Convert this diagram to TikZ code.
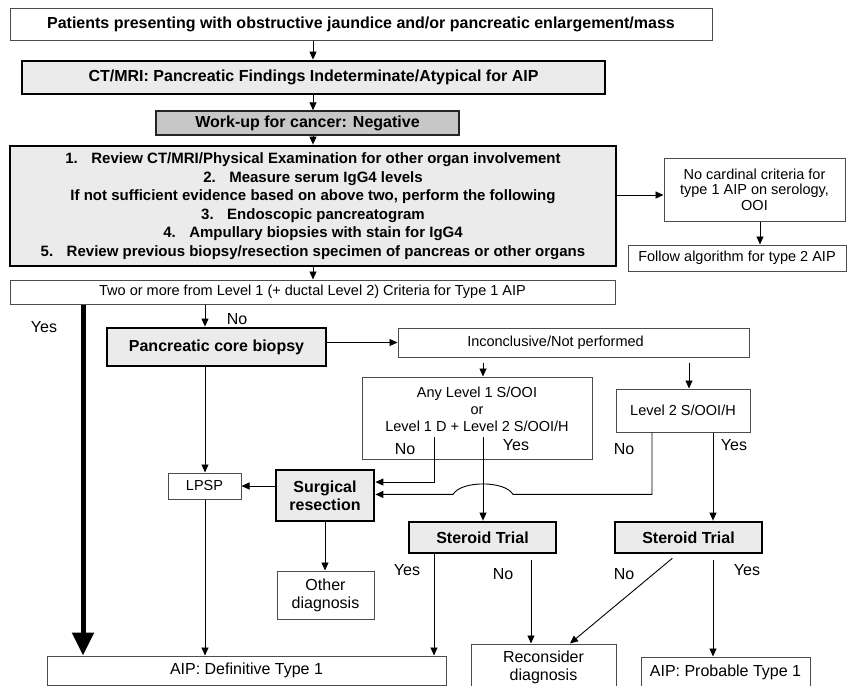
\documentclass[tikz,border=0pt]{standalone}
\usepackage{fontspec}
\setmainfont{Liberation Sans}
\usetikzlibrary{arrows.meta,calc}
\begin{document}
\begin{tikzpicture}[x=1pt,y=-1pt,
  thinbox/.style={draw=black!70, line width=1pt, fill=white, inner sep=0pt, align=center},
  thickbox/.style={draw=black, line width=2.8pt, fill=black!8, inner sep=0pt, align=center},
  midbox/.style={draw=black!85, line width=1.5pt, fill=black!22, inner sep=0pt, align=center},
  arr/.style={-{Triangle[length=8pt,width=7pt]}, line width=0.9pt},
  bigarr/.style={-{Triangle[length=23pt,width=21pt]}, line width=5pt},
  tB/.style={font=\fontsize{16}{19}\selectfont\bfseries},
  tM/.style={font=\fontsize{15}{18.5}\selectfont\bfseries},
  tR/.style={font=\fontsize{14.5}{17}\selectfont},
  tL/.style={font=\fontsize{16}{18}\selectfont},
  lab/.style={font=\fontsize{16}{18}\selectfont, inner sep=0pt}
]
\useasboundingbox (0,0) rectangle (847,686);
\clip (0,0) rectangle (847,686);

% coordinates for connector columns
\coordinate (xc) at (313,0);
\coordinate (yx) at (83,0);
\coordinate (nx) at (205,0);
\coordinate (ax) at (483,0);
\coordinate (l2x) at (689,0);
\coordinate (anx) at (434,0);
\coordinate (l2nx) at (652,0);
\coordinate (l2yx) at (713,0);
\coordinate (s1no) at (531,0);
\coordinate (s2no) at (677,0);
\coordinate (recin) at (570,0);
\coordinate (ncy) at (0,195);
\coordinate (ncx) at (760,0);

% boxes
\node[thinbox, tB, minimum width=702, minimum height=32] (b1) at (361,24)
  {Patients presenting with obstructive jaundice and/or pancreatic enlargement/mass};
\node[thickbox, tB, minimum width=583, minimum height=33] (b2) at (313.5,77.5)
  {CT/MRI: Pancreatic Findings Indeterminate/Atypical for AIP};
\node[midbox, tB, minimum width=303, minimum height=24] (b3) at (307.5,123)
  {Work-up for cancer: Negative};
\node[thickbox, tM, minimum width=606, minimum height=120] (b4) at (313,206)
  {1.\hspace{0.9em}Review CT/MRI/Physical Examination for other organ involvement\\
   2.\hspace{0.9em}Measure serum IgG4 levels\\
   If not sufficient evidence based on above two, perform the following\\
   3.\hspace{0.9em}Endoscopic pancreatogram\\
   4.\hspace{0.9em}Ampullary biopsies with stain for IgG4\\
   5.\hspace{0.9em}Review previous biopsy/resection specimen of pancreas or other organs};
\node[thinbox, font=\fontsize{14.5}{15.5}\selectfont, minimum width=181, minimum height=63] (nc) at (754.5,189.5)
  {No cardinal criteria for\\type 1 AIP on serology,\\OOI};
\node[thinbox, tR, minimum width=218, minimum height=26] (fa) at (737,258)
  {Follow algorithm for type 2 AIP};
\node[thinbox, tR, minimum width=605, minimum height=24] (b5) at (312.5,292)
  {Two or more from Level 1 (+ ductal Level 2) Criteria for Type 1 AIP};
\node[thickbox, tB, minimum width=219, minimum height=38] (cb) at (216.5,347)
  {Pancreatic core biopsy};
\node[thinbox, tR, minimum width=351, minimum height=29] (inc) at (573.5,342.5)
  {Inconclusive/Not performed\hspace*{36pt}};
\node[thinbox, tR, minimum width=230, minimum height=82] (any) at (477,418)
  {Any Level 1 S/OOI\\or\\Level 1 D + Level 2 S/OOI/H\\ \mbox{}};
\node[thinbox, tR, minimum width=134, minimum height=43] (l2) at (683,410.5)
  {Level 2 S/OOI/H};
\node[thinbox, tR, minimum width=73, minimum height=26] (lpsp) at (204.5,486)
  {LPSP};
\node[thickbox, font=\fontsize{16}{18}\selectfont\bfseries, minimum width=98, minimum height=51] (sr) at (325,495.5)
  {Surgical\\resection};
\node[thinbox, tL, minimum width=97, minimum height=48] (od) at (325.5,595)
  {Other\\diagnosis};
\node[thickbox, tB, minimum width=147, minimum height=31] (st1) at (482.5,537.5)
  {Steroid Trial};
\node[thickbox, tB, minimum width=147, minimum height=31] (st2) at (688.5,537.5)
  {Steroid Trial};
\node[thinbox, tL, minimum width=399, minimum height=29] (def) at (246.5,670.5)
  {AIP: Definitive Type 1};
\node[thinbox, tL, minimum width=145, minimum height=46] (rec) at (543.5,667)
  {Reconsider\\diagnosis};
\node[thinbox, tL, minimum width=169, minimum height=31] (prob) at (725.5,672.5)
  {AIP: Probable Type 1};

% entry points on surgical resection
\coordinate (s1) at ($(sr.north east)!0.25!(sr.south east)$);
\coordinate (s2) at ($(sr.north east)!0.48!(sr.south east)$);
\coordinate (anyNo) at (anx |- 0,437);
\coordinate (anyYes) at (ax |- 0,437);

% labels
\node[lab] (lyes1) at (44,327) {Yes};
\node[lab] (lno1) at (237,319) {No};
\node[lab] (lno2) at (405,449) {No};
\node[lab] (lyes2) at (516,445) {Yes};
\node[lab] (lno3) at (624,449) {No};
\node[lab] (lyes3) at (734,445) {Yes};
\node[lab] (lyes4) at (407,570) {Yes};
\node[lab] (lno4) at (503,574) {No};
\node[lab] (lno5) at (624,574) {No};
\node[lab] (lyes5) at (747,570) {Yes};

% connectors
\draw[arr] (b1.south -| xc) -- (b2.north -| xc);
\draw[arr] (b2.south -| xc) -- (b3.north -| xc);
\draw[arr] (b3.south -| xc) -- (b4.north -| xc);
\draw[arr] (b4.south -| xc) -- (b5.north -| xc);
\draw[arr] (b4.east |- ncy) -- (nc.west |- ncy);
\draw[arr] (nc.south -| ncx) -- (fa.north -| ncx);
\draw[bigarr] (b5.south -| yx) -- (def.north -| yx);
\draw[arr] (b5.south -| nx) -- (cb.north -| nx);
\draw[arr] (cb.east |- inc.west) -- (inc.west);
\draw[arr, shorten <=5pt] (inc.south -| ax) -- (any.north -| ax);
\draw[arr, shorten <=5pt] (inc.south -| l2x) -- (l2.north -| l2x);
\draw[arr] (cb.south -| nx) -- (lpsp.north -| nx);
\draw[arr] (sr.west |- lpsp.east) -- (lpsp.east);
\draw[arr] (anyNo) |- (s1);
\draw[arr] (l2.south -| l2nx) -- (l2nx |- s2) -- ($(ax |- s2)+(30,0)$)
  .. controls +(-8,-14) and +(8,-14) .. ++(-60,0) -- (s2);
\draw[arr] (anyYes) -- (st1.north -| ax);
\draw[arr] (l2.south -| l2yx) -- (st2.north -| l2yx);
\draw[arr] (sr.south) -- (sr.south |- od.north);
\draw[arr] (lpsp.south -| nx) -- (def.north -| nx);
\draw[arr] (st1.south -| anx) -- (def.north -| anx);
\draw[arr, shorten <=6pt] (st1.south -| s1no) -- (rec.north -| s1no);
\draw[arr, shorten <=6pt] (st2.south -| s2no) -- (rec.north -| recin);
\draw[arr, shorten <=6pt] (st2.south -| l2yx) -- (prob.north -| l2yx);
\end{tikzpicture}
\end{document}
